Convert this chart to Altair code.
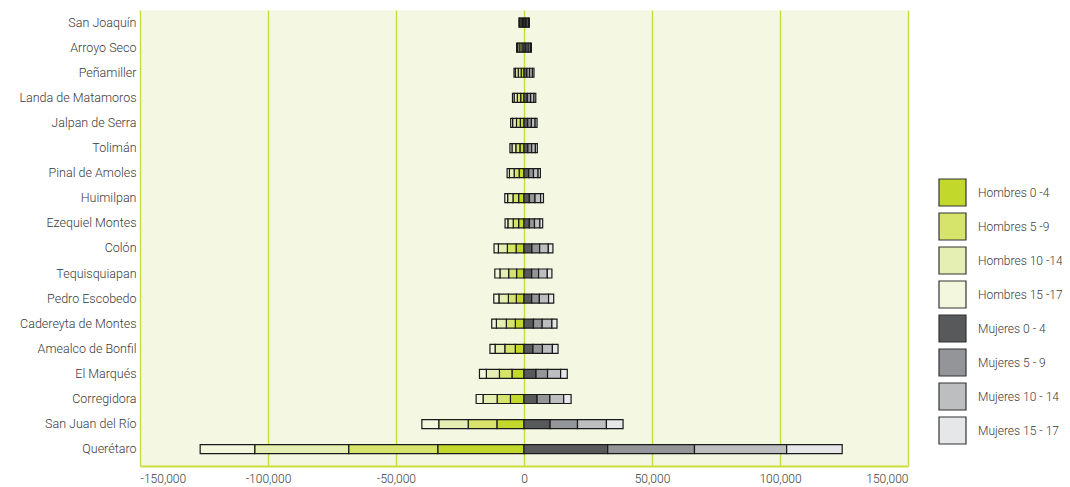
import altair as alt
import pandas as pd

municipios = [
    "San Joaquín", "Arroyo Seco", "Peñamiller", "Landa de Matamoros",
    "Jalpan de Serra", "Tolimán", "Pinal de Amoles", "Huimilpan",
    "Ezequiel Montes", "Colón", "Tequisquiapan", "Pedro Escobedo",
    "Cadereyta de Montes", "Amealco de Bonfil", "El Marqués", "Corregidora",
    "San Juan del Río", "Querétaro",
]

grupos = [
    "Hombres 0 -4", "Hombres 5 -9", "Hombres 10 -14", "Hombres 15 -17",
    "Mujeres 0 - 4", "Mujeres 5 - 9", "Mujeres 10 - 14", "Mujeres 15 - 17",
]
colores = [
    "#C2D92C", "#D6E46C", "#E6EFB3", "#F3F7DE",
    "#58595B", "#939598", "#BCBEC0", "#E6E7E8",
]

h0_4 = [550, 800, 1100, 1300, 1450, 1600, 1900, 2100, 2100, 3100, 2900, 3000, 3400, 3400, 4700, 5300, 10600, 33700]
h5_9 = [600, 850, 1150, 1300, 1500, 1600, 1950, 2200, 2100, 3400, 3100, 3100, 3500, 4100, 4900, 5200, 11200, 34800]
h10_14 = [550, 800, 1100, 1250, 1500, 1500, 1850, 2100, 2100, 3500, 3400, 3700, 3900, 3800, 5100, 5500, 11500, 36700]
h15_17 = [300, 450, 550, 650, 750, 800, 900, 1100, 1100, 1700, 2000, 2000, 1800, 2000, 2700, 2700, 6600, 21300]
m0_4 = [600, 800, 1100, 1300, 1450, 1500, 1850, 2100, 2100, 3100, 3000, 3000, 3700, 3500, 4700, 5100, 10200, 32700]
m5_9 = [600, 850, 1100, 1300, 1450, 1500, 1850, 2200, 2000, 3000, 2700, 3000, 3400, 3700, 4500, 5000, 10700, 33900]
m10_14 = [600, 800, 1100, 1300, 1450, 1450, 1800, 2200, 2100, 3400, 3400, 3600, 3800, 3900, 5100, 5400, 11300, 36000]
m15_17 = [300, 450, 600, 700, 750, 750, 900, 1100, 1100, 1800, 1800, 2000, 2000, 2200, 2600, 2900, 6500, 21700]

x_ticks = [-150000, -100000, -50000, 0, 50000, 100000, 150000]

series = [h0_4, h5_9, h10_14, h15_17, m0_4, m5_9, m10_14, m15_17]
rows = []
for gi, (g, vals) in enumerate(zip(grupos, series)):
    sign = -1 if gi < 4 else 1
    for m, v in zip(municipios, vals):
        rows.append({"municipio": m, "grupo": g, "orden": gi % 4, "valor": sign * v})
df = pd.DataFrame(rows)

FONT = "Roboto"
TEXT = "#3a3a3a"

chart = alt.Chart(df).mark_bar(size=9, stroke="#1a1a1a", strokeWidth=1.2).encode(
    y=alt.Y(
        "municipio:N", sort=municipios, title=None,
        scale=alt.Scale(paddingInner=0, paddingOuter=0.085, align=0),
        axis=alt.Axis(domain=False, ticks=False, labelPadding=4, labelFontSize=12.5,
                      labelFontWeight=300, labelColor=TEXT, labelFont=FONT, grid=False),
    ),
    x=alt.X(
        "valor:Q", stack="zero", title=None,
        scale=alt.Scale(domain=[-150000, 150000], nice=False),
        axis=alt.Axis(values=x_ticks,
                      labelExpr="replace(format(datum.value, ','), '\u2212', '-')",
                      grid=True, gridColor="#C9DE3A",
                      gridWidth=1.5, domainColor="#C9DE3A", domainWidth=2,
                      ticks=False, labelPadding=7, labelFontSize=12,
                      labelFontWeight=300, labelColor=TEXT, labelFont=FONT),
    ),
    color=alt.Color(
        "grupo:N", scale=alt.Scale(domain=grupos, range=colores),
        legend=alt.Legend(
            title=None, orient="none", legendX=798, legendY=168,
            symbolType="square", symbolSize=729, symbolStrokeColor="#333333",
            symbolStrokeWidth=1.2, symbolOpacity=1, rowPadding=1, labelOffset=11,
            labelFontSize=12, labelFontWeight=300, labelColor=TEXT,
            labelFont=FONT, padding=0, labelLimit=200,
        ),
    ),
    order=alt.Order("orden:Q"),
).properties(
    width=768, height=456,
    padding={"left": 132, "top": 2, "right": 154, "bottom": 21},
    autosize=alt.AutoSizeParams(type="none"),
    background="white",
).configure_view(fill="#F4F8E2", stroke="transparent")

chart.save("out.html", embed_options={"renderer": "svg", "actions": False})
